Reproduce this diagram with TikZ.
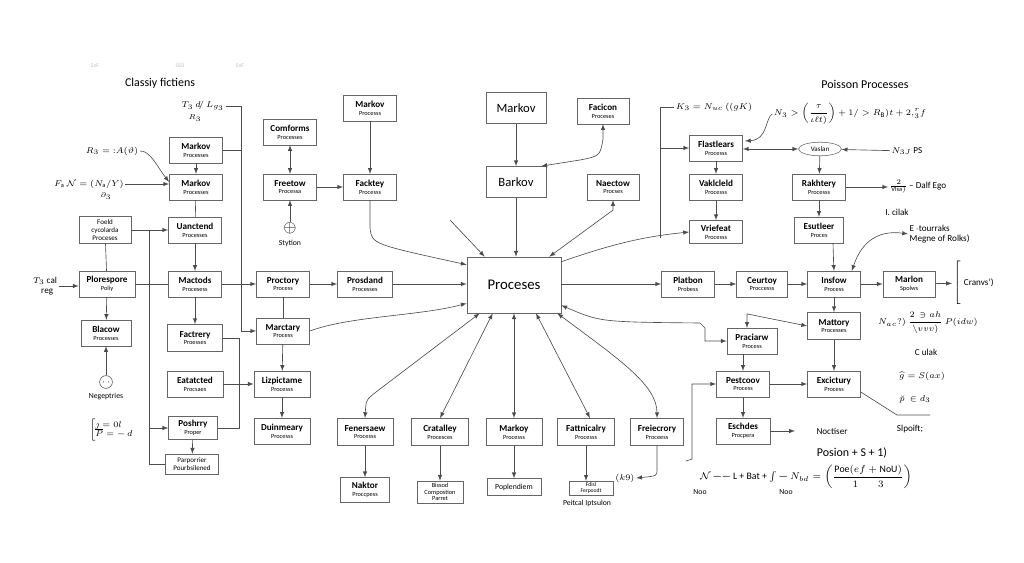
\documentclass[tikz,border=0pt]{standalone}
\usepackage{amsmath,amssymb}
\usepackage{fontspec}
\setmainfont{Carlito}
\usetikzlibrary{positioning,calc,shapes.geometric}
\tikzset{>=latex}
\tikzset{procbox/.style={draw=black!60,fill=white,align=center,inner sep=1pt,minimum width=1.33cm,minimum height=0.64cm,font=\fontsize{6.5}{7}\selectfont}}
\tikzset{bigbox/.style={procbox,minimum width=1.5cm,minimum height=0.78cm,font=\fontsize{9}{10}\selectfont}}
\tikzset{conn/.style={draw=black!70,line width=0.45pt}}
\tikzset{lbl/.style={inner sep=1pt,align=center,font=\fontsize{6.5}{7.5}\selectfont}}
\tikzset{titletext/.style={inner sep=1pt,font=\fontsize{8.5}{9}\selectfont}}
\tikzset{faint/.style={inner sep=1pt,text=black!25,font=\fontsize{4}{4}\selectfont}}
\newcommand{\pname}[2]{\textbf{#1}\\[-1.5pt]{\fontsize{4.5}{5}\selectfont #2}}

\begin{document}
\begin{tikzpicture}[x=0.025cm,y=-0.025cm]
\useasboundingbox (0,0) rectangle (1024,563);
% faint marks
\node[faint] (fa) at (95,66) {SoF};
\node[faint] (fb) at (180,66) {SSO};
\node[faint] (fc) at (240,66) {SoF};
% left column
\node[titletext] (lefttitle) at (160,83) {Classiy fictiens};
\node[lbl] (tlabel) at (203,106) {$T_3\ d\!/\ L_{g_3}$};
\node[lbl,font=\fontsize{5.5}{6}\selectfont] (tsub) at (195,118) {$R_3$};
\node[procbox] (markovA) at (196,150) {\pname{Markov}{Processes}};
\node[procbox] (markovB) at (196,187) {\pname{Markov}{Processes}};
\node[lbl] (rlabel) at (112,151) {$R_3 = {:}A(\vartheta)$};
\node[lbl] (flabel) at (89,184) {$F_{\mathrm{a}}\ \mathcal{N} = (N_{\mathrm{a}}/Y)$};
\node[lbl,font=\fontsize{5.5}{6}\selectfont] (fsub) at (106,196) {$\partial_3$};
\node[procbox] (uanctend) at (195,230) {\pname{Uanctend}{Processes}};
\node[procbox,minimum width=1.3cm,minimum height=0.67cm,font=\fontsize{5}{5.5}\selectfont] (foeld) at (105,230) {Foeld\\cycolarda\\Proceses};
\node[lbl,align=left] (tcal) at (45,286) {$T_3$ cal\\\hspace{0.9em}reg};
\node[procbox,minimum width=1.4cm] (plorespore) at (107,284) {\pname{Plorespore}{Poliy}};
\node[procbox] (marcods) at (195,284) {\pname{Mactods}{Procesess}};
\node[procbox,minimum width=1.25cm] (blucow) at (106,333) {\pname{Blacow}{Processes}};
\node[procbox,minimum width=1.38cm,minimum height=0.68cm] (factrery) at (195,338) {\pname{Factrery}{Proesses}};
\node[draw=black!70,circle,minimum size=0.32cm,inner sep=0pt,font=\fontsize{6}{6}\selectfont] (smiley) at (106,382) {$\cdot\,\cdot$};
\node[lbl,font=\fontsize{5.5}{6}\selectfont] (negap) at (106,397) {Negeptries};
\node[lbl] (intform) at (112,430) {$\left[\begin{array}{@{}l@{}}\jmath = 0l\\[-1pt] \overline{P} = -\,d\end{array}\right.$};
\node[procbox,minimum width=1.4cm] (eatatcted) at (195,384) {\pname{Eatatcted}{Procsaes}};
\node[procbox,minimum width=1.22cm,minimum height=0.58cm] (poshrry) at (193,428) {\pname{Poshrry}{Proper}};
\node[procbox,minimum height=0.5cm,font=\fontsize{5}{5.5}\selectfont] (pherp) at (192,464) {Parporrier\\Pourbsilened};
% middle left
\node[procbox] (conforms) at (290,132) {\pname{Comforms}{Processes}};
\node[procbox] (freetow) at (290,187) {\pname{Freetow}{Processa}};
\node[inner sep=0pt,font=\fontsize{12}{12}\selectfont] (globe) at (290,228) {$\oplus$};
\node[lbl,font=\fontsize{5.5}{6}\selectfont] (stytion) at (290,243) {Stytion};
\node[procbox] (markovT) at (370,108) {\pname{Markov}{Processs}};
\node[procbox] (facktey) at (370,187) {\pname{Facktey}{Processs}};
\node[procbox] (proctory) at (283,284) {\pname{Proctory}{Process}};
\node[procbox,minimum width=1.38cm] (prosdand) at (365,284) {\pname{Prosdand}{Processes}};
\node[procbox] (marctary) at (283,331) {\pname{Marctary}{Process}};
\node[procbox,minimum width=1.4cm] (lizp) at (282,384) {\pname{Lizpictame}{Processs}};
\node[procbox,minimum width=1.4cm] (dumn) at (282,431) {\pname{Duinmeary}{Processs}};
% centre
\node[procbox,minimum width=2.35cm,minimum height=1.4cm,font=\fontsize{10.5}{11}\selectfont] (proc) at (514,285) {Proceses};
\node[bigbox] (markovM) at (516,108) {Markov};
\node[bigbox] (barkov) at (516,182) {Barkov};
\node[procbox,minimum width=1.3cm] (facicon) at (603,111) {\pname{Facicon}{Proceses}};
\node[procbox,minimum width=1.3cm] (naectow) at (613,187) {\pname{Naectow}{Procses}};
\coordinate (stub) at (450,220);
% bottom row
\node[procbox,minimum width=1.4cm,minimum height=0.68cm] (fener) at (365,432) {\pname{Fenersaew}{Processs}};
\node[procbox,minimum width=1.42cm,minimum height=0.68cm] (cratal) at (440,432) {\pname{Cratalley}{Procesces}};
\node[procbox,minimum width=1.4cm,minimum height=0.68cm] (markovC) at (514,432) {\pname{Markoy}{Processs}};
\node[procbox,minimum width=1.42cm,minimum height=0.68cm] (fattn) at (586,432) {\pname{Fattnicalry}{Processs}};
\node[procbox,minimum width=1.33cm,minimum height=0.68cm] (frele) at (657,432) {\pname{Freiecrory}{Proceess}};
\node[procbox,minimum width=1.22cm,minimum height=0.62cm] (naktor) at (365,490) {\pname{Naktor}{Proccpess}};
\node[procbox,minimum width=1.15cm,minimum height=0.55cm,font=\fontsize{4.5}{4.8}\selectfont] (bissod) at (440,492) {Bissod\\Compostion\\Parret};
\node[procbox,minimum width=1.35cm,minimum height=0.42cm,font=\fontsize{5.5}{6}\selectfont] (poplend) at (514,487) {Poplendiem};
\node[procbox,minimum width=1.1cm,minimum height=0.33cm,font=\fontsize{4}{4.3}\selectfont] (fdisl) at (591,488) {Fdisl\\Ferpoodt};
\node[lbl,font=\fontsize{5.5}{6}\selectfont] (peitcal) at (587,503) {Peitcal Iptsulon};
\node[lbl,font=\fontsize{6}{6}\selectfont] (k9) at (625,478) {$(k9)$};
% right
\node[titletext] (righttitle) at (865,84) {Poisson Processes};
\node[lbl] (k3label) at (714,107) {$K_3 = N_{uc}\ ((gK)$};
\node[lbl,font=\fontsize{6}{7}\selectfont] (nform) at (850,114) {$N_3 > \biggl(\dfrac{\tau}{\iota\ell t)}\biggr) + 1/ > R_{\mathrm{B}})t + 2{,}_3^{r}f$};
\node[procbox] (flast) at (716,148) {\pname{Flastlears}{Processs}};
\node[procbox] (vakl) at (716,187) {\pname{Vaklcleld}{Processs}};
\node[procbox,minimum height=0.58cm] (vrief) at (716,232) {\pname{Vriefeat}{Processs}};
\node[draw=black!60,ellipse,minimum width=1.07cm,minimum height=0.34cm,inner sep=0pt,font=\fontsize{5}{5}\selectfont] (vaslan) at (820,149) {Vaslan};
\node[lbl] (nps) at (907,151) {$N_{3J}$ PS};
\node[procbox] (rakht) at (819,187) {\pname{Rakhtery}{Processs}};
\node[procbox,minimum width=1.22cm] (esut) at (819,230) {\pname{Esutleer}{Proces}};
\node[lbl] (dalf) at (918,187) {$\frac{2}{\mathrm{Vlsa)}}$\,\textendash\ Dalf Ego};
\node[lbl] (cilak) at (897,212) {I. cilak};
\node[lbl,align=left,anchor=west] (etour) at (908,234) {E\,$\cdot$tourraks\\Megne of Rolks)};
\node[procbox] (platbon) at (688,284) {\pname{Platbon}{Probess}};
\node[procbox,minimum width=1.27cm] (ceurtoy) at (762,284) {\pname{Ceurtoy}{Proccesss}};
\node[procbox] (insfow) at (834,284) {\pname{Insfow}{Process}};
\node[procbox,minimum width=1.3cm] (marlon) at (909,284) {\pname{Marlon}{Spolws}};
\node[lbl,anchor=west] (cranv) at (952,283) {$\left[\rule[-0.5cm]{0pt}{1.0cm}\right.$\,Cranvs')};
\node[procbox,minimum height=0.68cm] (mattory) at (834,326) {\pname{Mattory}{Processes}};
\node[procbox,minimum width=1.25cm] (prac) at (752,341) {\pname{Praciarw}{Process}};
\node[procbox] (pest) at (743,384) {\pname{Pestcoov}{Process}};
\node[procbox] (excic) at (834,384) {\pname{Excictury}{Process}};
\node[procbox,minimum width=1.35cm] (eschd) at (743,431) {\pname{Eschdes}{Procpera}};
\node[lbl,font=\fontsize{6}{7}\selectfont] (nacf) at (928,323) {$N_{ac}?)\,\dfrac{2\,\ni ah}{\backslash vvv)}\,P(idw)$};
\node[lbl] (culak) at (926,352) {C ulak};
\node[lbl] (ghat) at (922,376) {$\widehat{g} = S(ax)$};
\node[lbl] (pin) at (915,399) {$\breve{p}\ \in d_3$};
\node[lbl] (noctiser) at (832,431) {Noctiser};
\node[lbl] (slpoift) at (910,429) {Slpoift;};
\node[lbl,font=\fontsize{8.5}{9}\selectfont] (posion) at (852,453) {Posion + S + 1)};
\node[lbl,font=\fontsize{7}{8}\selectfont] (bform) at (806,477) {$\mathcal{N}$\ \textemdash\textemdash\ L + Bat + $\int$ \textemdash\ $N_{bd} = \left(\dfrac{\mathrm{Poe}(ef + \mathrm{NoU})}{1\qquad 3}\right)$};
\node[lbl,font=\fontsize{5.5}{6}\selectfont] (noo1) at (700,492) {Noo};
\node[lbl,font=\fontsize{5.5}{6}\selectfont] (noo2) at (786,492) {Noo};

% connectors, left
\draw[conn,->] (markovA) -- (markovB);
\draw[conn] (markovB) -- (uanctend);
\draw[conn,->] (rlabel.east) .. controls (150,150) and (158,168) .. ($(markovB.north west)+(0,8)$);
\draw[conn,->] (flabel.east) -- (flabel.east -| markovB.west);
\coordinate (lbus) at ($(marctary.west)+(-15,0)$);
\draw[conn,->] (tlabel.east) -| (lbus) -- (marctary.west);
\draw[conn] (markovA.east) -- (markovA.east -| lbus);
\draw[conn,->] (foeld) -- (uanctend);
\coordinate (fbus) at ($(pherp.west)+(-16,0)$);
\draw[conn] (foeld.east -| fbus) -- (fbus) -- (pherp.west);
\draw[conn,->] (fbus |- poshrry.west) -- (poshrry.west);
\draw[conn] (foeld) -- (plorespore);
\draw[conn,->] (tcal.east) -- (tcal.east -| plorespore.west);
\draw[conn] (plorespore) -- (marcods);
\draw[conn,->] (plorespore) -- (blucow);
\draw[conn,->] (smiley) -- (blucow);
\draw[conn,->] (uanctend) -- (marcods);
\draw[conn,->] (marcods) -- (factrery);
\draw[conn,->] (marcods) -- (proctory);
\draw[conn] (factrery.east) -- ++(16,0) |- (poshrry.east);
\draw[conn,->] (eatatcted) -- (lizp);
\draw[conn,->] (poshrry) -- (pherp);
% middle left
\draw[conn,<->] (conforms) -- (freetow);
\draw[conn,->] (globe) -- (freetow);
\draw[conn,->] (freetow) -- (facktey);
\draw[conn,->] (markovT) -- (facktey);
\draw[conn,->] (facktey.south) -- ++(0,28) .. controls (372,244) .. ($(proc.north west)+(0,8)$);
\draw[conn,->] (stub) -- ($(proc.north west)+(18,0)$);
\draw[conn,->] (proctory) -- (prosdand);
\draw[conn,->] (prosdand) -- (prosdand -| proc.west);
\draw[conn] (proctory) -- (marctary);
\draw[conn,->] (marctary.east) .. controls (350,316) and (420,316) .. ($(proc.south west)+(0,-10)$);
\draw[conn,->] (marctary) -- (lizp);
\draw[conn,->] (lizp) -- (dumn);
% centre
\draw[conn,->] (markovM) -- (barkov);
\draw[conn,->] (barkov) -- (barkov |- proc.north);
\draw[conn,<->] (facicon.south) -- ++(0,15) .. controls (600,156) .. (580,160) -- ($(barkov.north east)+(-5,0)$);
\draw[conn,<->] (naectow.south) -- ++(0,10) -- ($(proc.north east)+(-12,0)$);
\draw[conn,->] ($(proc.north east)+(0,5)$) .. controls (610,245) and (640,237) .. (vrief.west);
% bottom
\draw[conn,<->] ($(proc.south west)+(13,0)$) -- (376,392) .. controls (366,400) .. (fener.north);
\draw[conn,<->] ($(proc.south west)+(26,0)$) -- (cratal.north);
\draw[conn,<->] (proc.south) -- (markovC.north);
\draw[conn,<->] ($(proc.south)+(22,0)$) -- ($(fattn.north)+(4,0)$);
\draw[conn,<->] ($(proc.south east)+(-4,0)$) .. controls (620,360) and (657,385) .. (frele.north);
\draw[conn,->] (fener) -- (naktor);
\draw[conn,->] (cratal) -- (bissod);
\draw[conn,->] (markovC) -- (poplend);
\draw[conn,->] (fattn.south) -- (fattn.south |- fdisl.north);
\draw[conn,->] (frele.south) -- ++(0,24) .. controls (657,476) .. (k9.east);
% right
\coordinate (rbus) at (660,238);
\draw[conn] (k3label.west) -| (rbus);
\draw[conn,->] (rbus |- flast.west) -- (flast.west);
\draw[conn,->] (nform.west) .. controls (765,118) and (768,140) .. ($(flast.north east)+(2,6)$);
\draw[conn,<->] (flast.east |- vaslan) -- (vaslan.west);
\draw[conn,->] (nps) -- (vaslan);
\draw[conn,->] (flast) -- (vakl);
\draw[conn,->] (vakl) -- (vrief);
\draw[conn,->] (vaslan) -- (rakht);
\draw[conn,->] (rakht) -- (esut);
\draw[conn,->] (rakht) -- (dalf);
\draw[conn,->] ($(esut.south)+(14,0)$) .. controls (833,255) .. (insfow.north);
\draw[conn,<->] ($(insfow.north east)+(-9,0)$) .. controls (862,240) and (880,230) .. (etour.west);
\draw[conn,->] (proc.east |- platbon) -- (platbon.west);
\draw[conn,->] (platbon) -- (ceurtoy);
\draw[conn,->] (ceurtoy) -- (insfow);
\draw[conn,->] (insfow) -- (marlon);
\draw[conn,->] (marlon) -- (cranv);
\draw[conn,->] (insfow) -- (mattory);
\draw[conn,<->] (mattory.west) -- ($(prac.north)+(-5,-14)$) -- ($(prac.north)+(-5,0)$);
\draw[conn,<->] ($(proc.south east)+(0,-8)$) .. controls (600,322) .. (700,323) -- (705,328) |- (prac.west);
\draw[conn,->] (pest.north |- prac.south) -- (pest.north);
\draw[conn,->] (pest) -- (excic);
\draw[conn,->] (mattory) -- (excic);
\draw[conn,->] (pest) -- (eschd);
\coordinate (hookend) at (686,461);
\draw[conn,->] (hookend) -- ++(6,-2) |- (pest.west);
\coordinate (excicend) at (930,415);
\draw[conn] ($(excic.south east)+(0,-5)$) -- (897,415) -- (excicend);
\coordinate (noctarrow) at (795,431);
\draw[conn,->] (eschd) -- (noctarrow);
\end{tikzpicture}
\end{document}
